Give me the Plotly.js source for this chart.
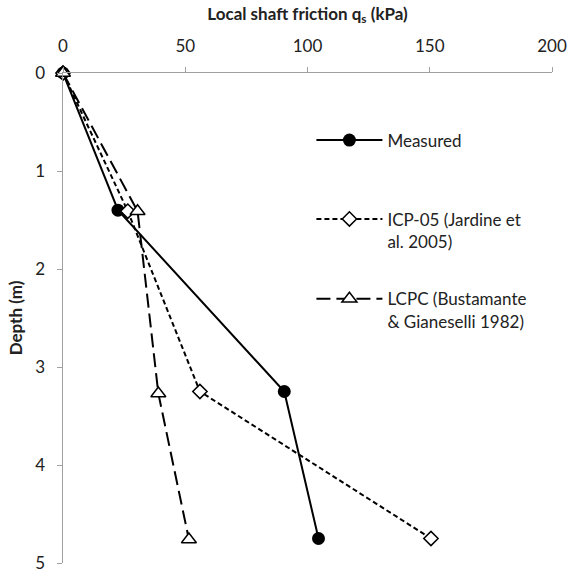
<!DOCTYPE html>
<html>
<head>
<meta charset="utf-8">
<script src="https://cdn.plot.ly/plotly-3.0.1.min.js"></script>
<style>html,body{margin:0;padding:0;background:#fff;}#chart{width:569px;height:573px;}</style>
</head>
<body>
<div id="chart"></div>
<script>
// Depth (m) and local shaft friction (kPa)
const depthMeasured = [0, 1.4, 3.25, 4.75];
const qsMeasured = [0, 22.5, 90.5, 104.5];
const depthICP = [0, 1.41, 3.25, 4.75];
const qsICP = [0, 26.5, 56, 150.5];
const depthLCPC = [0, 1.41, 3.27, 4.76];
const qsLCPC = [0, 30.5, 39, 51.5];
const xTicks = [0, 50, 100, 150, 200];
const yTicks = [0, 1, 2, 3, 4, 5];
const names = ['Measured', 'ICP-05 (Jardine et<br>al. 2005)', 'LCPC (Bustamante<br>& Gianeselli 1982)'];

const FONT = 'Lato, "Open Sans", sans-serif';
const traces = [
  {x: qsMeasured, y: depthMeasured, name: names[0], mode: 'lines+markers', legend: 'legend',
   line: {color: '#000', width: 2}, marker: {symbol: 'circle', size: 13, color: '#000'}, cliponaxis: false},
  {x: qsICP, y: depthICP, name: names[1], mode: 'lines+markers', legend: 'legend2',
   line: {color: '#000', width: 2, dash: '5px,3px'},
   marker: {symbol: 'diamond', size: 11, color: '#fff', line: {color: '#000', width: 1.5}}, cliponaxis: false},
  {x: qsLCPC, y: depthLCPC, name: names[2], mode: 'lines+markers', legend: 'legend3',
   line: {color: '#000', width: 2, dash: '14px,6px'},
   marker: {symbol: 'triangle-up', size: 13, color: '#fff', line: {color: '#000', width: 1.5}}, cliponaxis: false}
];

function leg(y) {
  return {x: 0.508, y: y, xanchor: 'left', yanchor: 'top', valign: 'top', itemwidth: 66,
          font: {family: FONT, size: 17, color: '#222'}, bgcolor: 'rgba(0,0,0,0)'};
}

const layout = {
  width: 569, height: 573,
  margin: {l: 63, r: 17, t: 73, b: 10},
  paper_bgcolor: '#fff', plot_bgcolor: '#fff',
  font: {family: FONT, size: 17, color: '#222'},
  showlegend: true,
  legend: leg(0.899),
  legend2: leg(0.738),
  legend3: leg(0.575),
  xaxis: {
    side: 'top', range: [0, 200], tickvals: xTicks, ticktext: xTicks.map(String),
    showline: true, linecolor: '#a0a0a0', linewidth: 1.5, ticks: 'outside', ticklen: 5, tickcolor: '#a0a0a0',
    ticklabelstandoff: 8, ticklabeloverflow: 'allow',
    showgrid: false, zeroline: false, tickfont: {size: 17, color: '#222'},
    title: {text: '<b>Local shaft friction q<sub>s</sub> (kPa)</b>', font: {size: 17, color: '#222'}, standoff: 10}
  },
  yaxis: {
    range: [5, 0], tickvals: yTicks, ticktext: yTicks.map(String),
    showline: true, linecolor: '#a0a0a0', linewidth: 1.5, ticks: 'outside', ticklen: 5, tickcolor: '#a0a0a0',
    ticklabelstandoff: 8, ticklabeloverflow: 'allow',
    showgrid: false, zeroline: false, tickfont: {size: 17, color: '#222'},
    title: {text: '<b>Depth (m)</b>', font: {size: 17, color: '#222'}, standoff: 8}
  }
};

Plotly.newPlot('chart', traces, layout, {displayModeBar: false, staticPlot: true});
</script>
</body>
</html>
